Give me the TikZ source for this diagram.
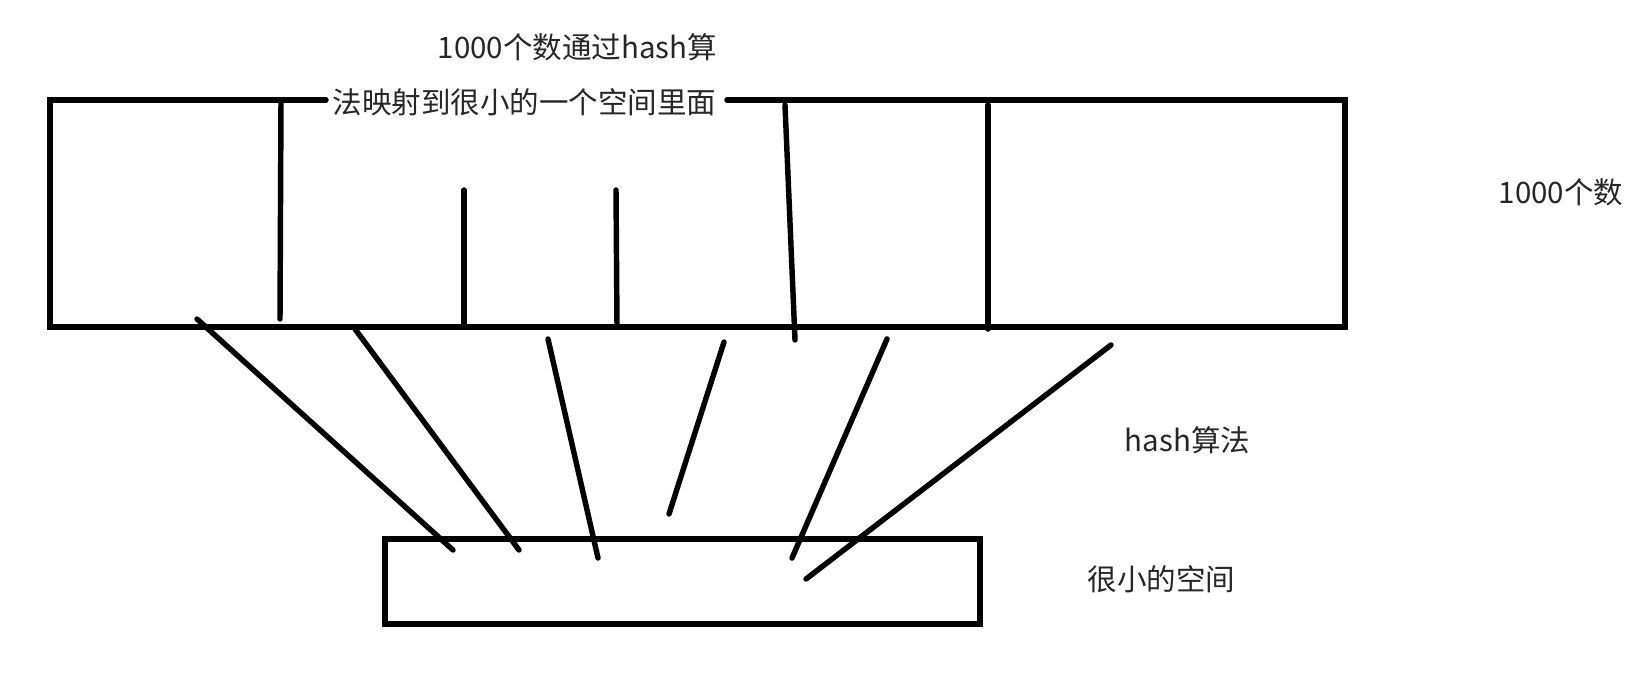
\documentclass[tikz,border=0pt]{standalone}
\usepackage{fontspec}
\newfontfamily\cjk{Noto Sans CJK SC}
\begin{document}
\begin{tikzpicture}[x=0.02cm, y=-0.02cm, line width=3.1pt, line cap=round,
  font=\cjk\fontsize{16.8pt}{20pt}\selectfont, lbl/.style={inner sep=0pt, text=black!85}]
 \useasboundingbox (0,0) rectangle (1652,676);
 \def\bxl{50} \def\bxr{1345} \def\byt{100} \def\byb{327}
 % texts
 \node[lbl, anchor=west] (maptop) at (435,47) {1000个数通过hash算};
 \node[lbl, anchor=west] (mapbot) at (330,102) {法映射到很小的一个空间里面};
 \node[lbl, anchor=west] (nums) at (1496,192) {1000个数};
 \node[lbl, anchor=west] (hashalg) at (1122,440) {hash算法};
 \node[lbl, anchor=west] (space) at (1085,579) {很小的空间};
 % big box, broken by the text on its top edge
 \draw (727,\byt) -- (\bxr,\byt) -- (\bxr,\byb) -- (\bxl,\byb) -- (\bxl,\byt) -- (326,\byt);
 \foreach \a/\b/\c/\d in {281/100/280/319, 464/190/464/327, 616/190/617/327, 785/105/795/340, 988/105/988/329}
   \draw (\a,\b) -- (\c,\d);
 % small box
 \draw (385,539) rectangle (980,624);
 \foreach \a/\b/\c/\d in {197/319/453/550, 355/329/519/550, 548/339/598/558, 724/342/669/514, 887/339/792/558, 1111/345/806/579}
   \draw (\a,\b) -- (\c,\d);
\end{tikzpicture}
\end{document}
